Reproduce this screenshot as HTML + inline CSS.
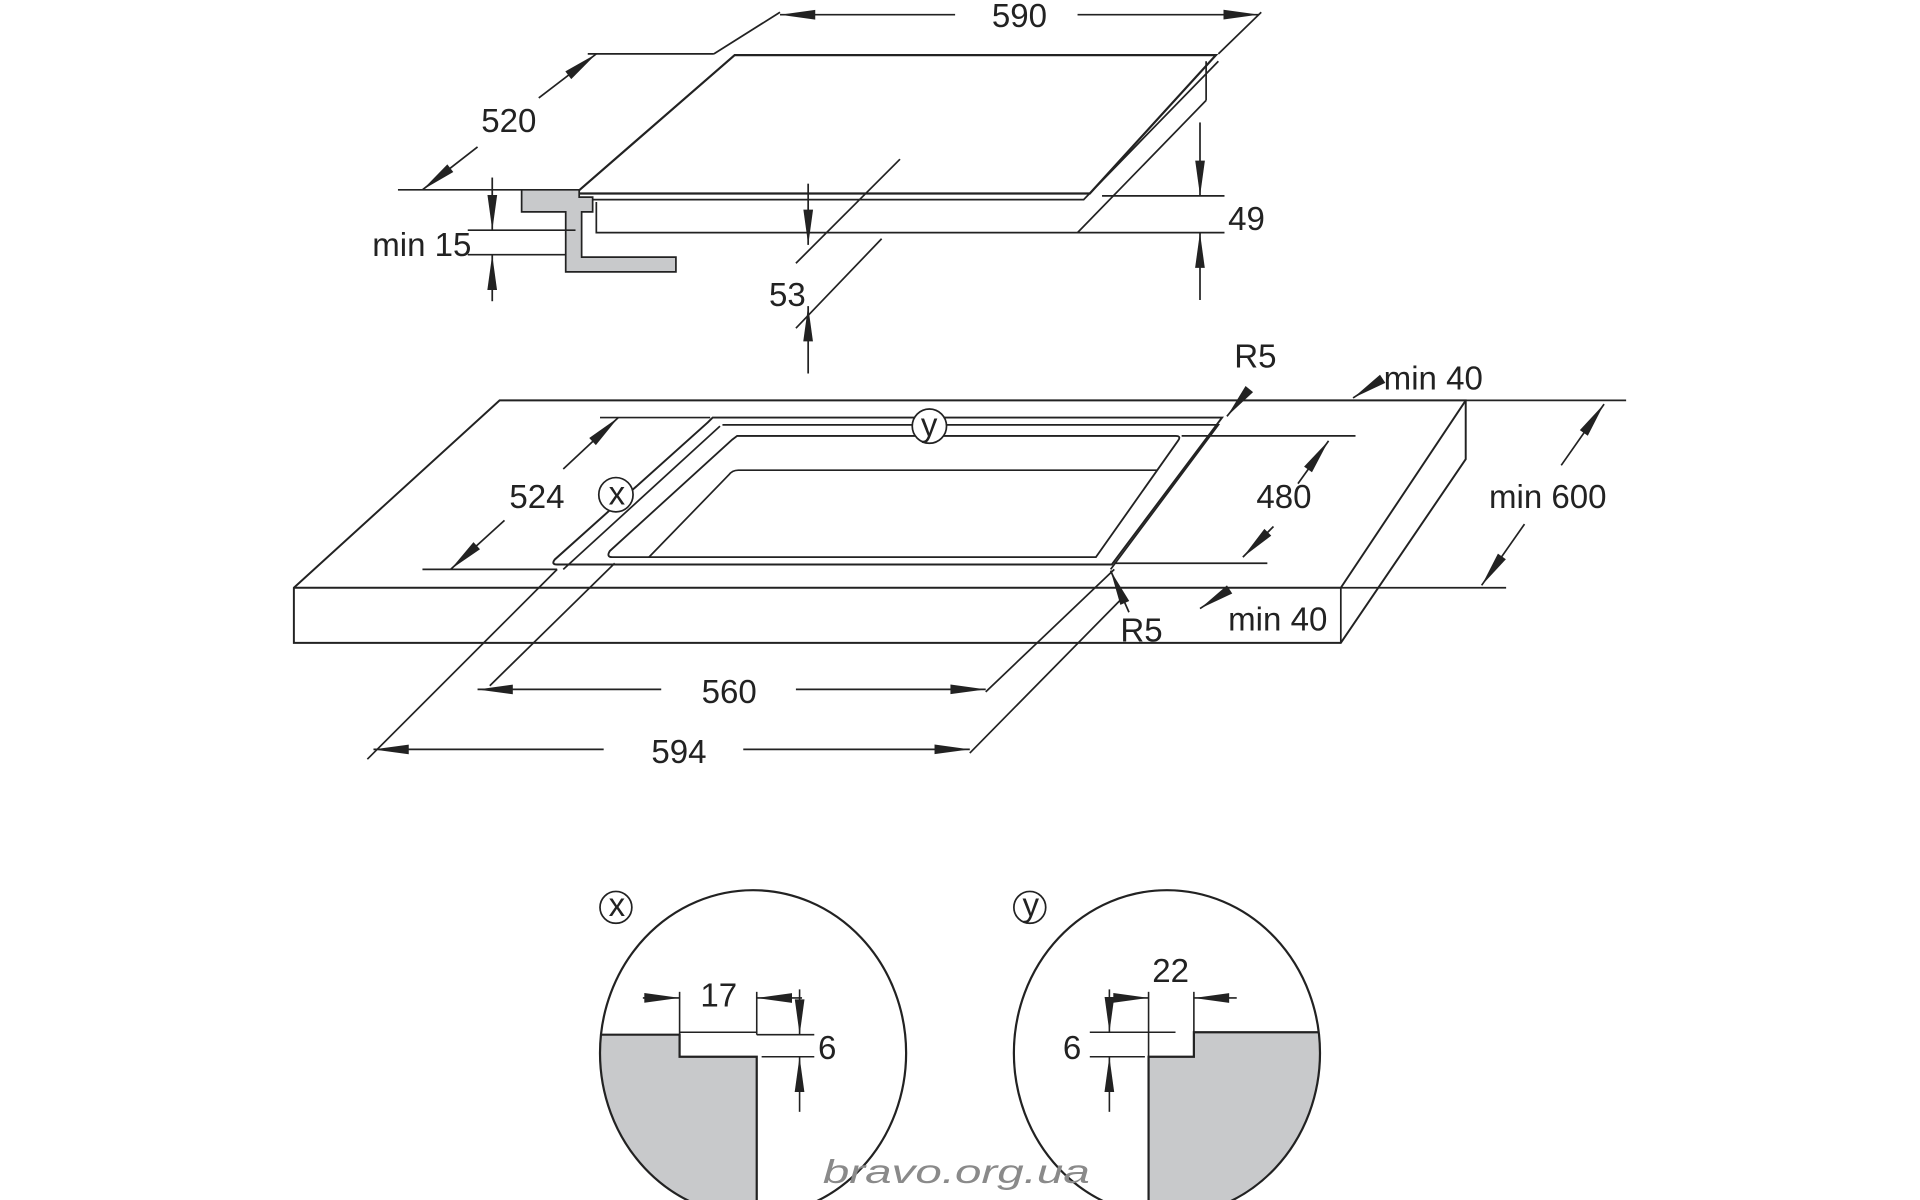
<!DOCTYPE html>
<html><head><meta charset="utf-8"><style>
html,body{margin:0;padding:0;background:#fff;}
svg{display:block}
text{font-family:"Liberation Sans",sans-serif;font-size:27px;fill:#222;}
</style></head><body>
<svg width="1920" height="1200" viewBox="0 0 1568 980" xmlns="http://www.w3.org/2000/svg">
<defs>
<marker id="a" viewBox="0 0 10 10" refX="10" refY="5" markerWidth="12" markerHeight="9" markerUnits="userSpaceOnUse" orient="auto-start-reverse" overflow="visible">
<path d="M-22,-3 L10,5 L-22,13 Z" transform="scale(1,0.55) translate(0,4)" fill="#222"/>
</marker>
</defs>
<g stroke="#222" stroke-width="1.4" fill="none">
<path d="M600,45 L993,45 L890,158 L470,158 Z" stroke-width="1.8"/>
<path d="M470,158 L470,163 L885,163 L995,50"/>
<path d="M487,165 L487,190 L880,190 L985,82"/>
<path d="M985,50 L985,82"/>
<line x1="325" y1="155" x2="470" y2="155"/>
<path d="M426,155 L473,155 L473,161 L484,161 L484,173 L475,173 L475,210 L552,210 L552,222 L462,222 L462,173 L426,173 Z" fill="#c8c9cb"/>
<line x1="583" y1="44" x2="637" y2="10"/>
<line x1="995" y1="44" x2="1030" y2="10"/>
<line x1="637" y1="12" x2="780" y2="12" marker-start="url(#a)"/>
<line x1="880" y1="12" x2="1028" y2="12" marker-end="url(#a)"/>
<line x1="480" y1="44" x2="583" y2="44"/>
<line x1="345" y1="155" x2="390" y2="120" marker-start="url(#a)"/>
<line x1="440" y1="80" x2="487" y2="44" marker-end="url(#a)"/>
<line x1="402" y1="145" x2="402" y2="188" marker-end="url(#a)"/>
<line x1="402" y1="208" x2="402" y2="246" marker-start="url(#a)"/>
<line x1="382" y1="188" x2="470" y2="188"/>
<line x1="382" y1="208" x2="462" y2="208"/>
<line x1="660" y1="150" x2="660" y2="200" marker-end="url(#a)"/>
<line x1="660" y1="250" x2="660" y2="305" marker-start="url(#a)"/>
<line x1="650" y1="215" x2="735" y2="130"/>
<line x1="650" y1="268" x2="720" y2="195"/>
<line x1="900" y1="160" x2="1000" y2="160"/>
<line x1="880" y1="190" x2="1000" y2="190"/>
<line x1="980" y1="100" x2="980" y2="160" marker-end="url(#a)"/>
<line x1="980" y1="190" x2="980" y2="245" marker-start="url(#a)"/>
<path d="M240,480 L408,327 L1197,327 L1197,375 L1095,525 L240,525 Z" stroke-width="1.6"/>
<line x1="240" y1="480" x2="1095" y2="480" stroke-width="1.6"/>
<line x1="1095" y1="480" x2="1197" y2="327" stroke-width="1.6"/>
<line x1="1095" y1="480" x2="1095" y2="525"/>
<path d="M582,341 L998,341 L908,461 L455,461 Q450,461 453,457 L578,345 Z" stroke-width="1.6"/>
<path d="M590,347 L995,347 L907,465"/>
<path d="M460,465 L588,348"/>
<path d="M602,356 L960,356 Q965,356 962,360 L895,455 L500,455 Q495,455 498,450 L598,359 Z" stroke-width="1.5"/>
<path d="M530,455 L595,388 Q598,384 603,384 L945,384"/>
<line x1="345" y1="465" x2="455" y2="465"/>
<line x1="490" y1="341" x2="580" y2="341"/>
<line x1="368" y1="465" x2="412" y2="425" marker-start="url(#a)"/>
<line x1="460" y1="383" x2="505" y2="341" marker-end="url(#a)"/>
<line x1="965" y1="356" x2="1107" y2="356"/>
<line x1="910" y1="460" x2="1035" y2="460"/>
<line x1="1015" y1="455" x2="1040" y2="430" marker-start="url(#a)"/>
<line x1="1060" y1="395" x2="1085" y2="360" marker-end="url(#a)"/>
<line x1="1197" y1="327" x2="1328" y2="327"/>
<line x1="1095" y1="480" x2="1230" y2="480"/>
<line x1="1210" y1="478" x2="1245" y2="428" marker-start="url(#a)"/>
<line x1="1275" y1="380" x2="1310" y2="330" marker-end="url(#a)"/>
<line x1="1105" y1="325" x2="1125" y2="312" marker-start="url(#a)"/>
<line x1="980" y1="497" x2="1000" y2="484" marker-start="url(#a)"/>
<line x1="1002" y1="340" x2="1020" y2="318" marker-start="url(#a)"/>
<line x1="907" y1="466" x2="922" y2="500" marker-start="url(#a)"/>
<line x1="400" y1="560" x2="502" y2="460"/>
<line x1="805" y1="565" x2="910" y2="465"/>
<line x1="300" y1="620" x2="455" y2="465"/>
<line x1="792" y1="615" x2="915" y2="490"/>
<line x1="390" y1="563" x2="540" y2="563" marker-start="url(#a)"/>
<line x1="650" y1="563" x2="805" y2="563" marker-end="url(#a)"/>
<line x1="305" y1="612" x2="493" y2="612" marker-start="url(#a)"/>
<line x1="607" y1="612" x2="792" y2="612" marker-end="url(#a)"/>
<circle cx="759" cy="348" r="14" fill="#fff"/>
<circle cx="503" cy="404" r="14" fill="#fff"/>
<circle cx="503" cy="741" r="13"/>
<circle cx="841" cy="741" r="13"/>
</g>
<g fill="#222" stroke="none">
<text x="810" y="22" font-size="26">590</text>
<text x="393" y="108">520</text>
<text x="304" y="209">min 15</text>
<text x="628" y="250">53</text>
<text x="1003" y="188">49</text>
<text x="1008" y="300">R5</text>
<text x="1130" y="318">min 40</text>
<text x="416" y="415">524</text>
<text x="1026" y="415">480</text>
<text x="1216" y="415">min 600</text>
<text x="915" y="524">R5</text>
<text x="1003" y="515">min 40</text>
<text x="573" y="574">560</text>
<text x="532" y="623">594</text>
<text x="752" y="356" font-size="20">y</text>
<text x="497" y="412" font-size="20">x</text>
<text x="497" y="748" font-size="20">x</text>
<text x="835" y="748" font-size="20">y</text>
</g>
<clipPath id="cx"><ellipse cx="615" cy="860" rx="125" ry="133"/></clipPath>
<clipPath id="cy"><ellipse cx="953" cy="860" rx="125" ry="133"/></clipPath>
<g clip-path="url(#cx)">
<path d="M480,845 L555,845 L555,863 L618,863 L618,990 L480,990 Z" fill="#c8c9cb" stroke="#222" stroke-width="1.8"/>
</g>
<g clip-path="url(#cy)">
<path d="M1090,843 L975,843 L975,863 L938,863 L938,990 L1090,990 Z" fill="#c8c9cb" stroke="#222" stroke-width="1.8"/>
</g>
<ellipse cx="615" cy="860" rx="125" ry="133" fill="none" stroke="#222" stroke-width="1.8"/>
<ellipse cx="953" cy="860" rx="125" ry="133" fill="none" stroke="#222" stroke-width="1.8"/>
<g stroke="#222" stroke-width="1.3" fill="none">
<line x1="555" y1="843" x2="618" y2="843"/>
<line x1="555" y1="810" x2="555" y2="845"/>
<line x1="618" y1="810" x2="618" y2="845"/>
<line x1="525" y1="815" x2="555" y2="815" marker-end="url(#a)"/>
<line x1="618" y1="815" x2="655" y2="815" marker-start="url(#a)"/>
<line x1="618" y1="845" x2="665" y2="845"/>
<line x1="622" y1="863" x2="665" y2="863"/>
<line x1="653" y1="808" x2="653" y2="845" marker-end="url(#a)"/>
<line x1="653" y1="863" x2="653" y2="908" marker-start="url(#a)"/>
<line x1="938" y1="810" x2="938" y2="863"/>
<line x1="975" y1="810" x2="975" y2="843"/>
<line x1="905" y1="815" x2="938" y2="815" marker-end="url(#a)"/>
<line x1="975" y1="815" x2="1010" y2="815" marker-start="url(#a)"/>
<line x1="890" y1="843" x2="960" y2="843"/>
<line x1="890" y1="863" x2="935" y2="863"/>
<line x1="906" y1="808" x2="906" y2="843" marker-end="url(#a)"/>
<line x1="906" y1="863" x2="906" y2="908" marker-start="url(#a)"/>
</g>
<g fill="#222">
<text x="572" y="822">17</text>
<text x="668" y="865">6</text>
<text x="941" y="802">22</text>
<text x="868" y="865">6</text>
<text x="672" y="966" font-size="40" font-style="italic" textLength="218" lengthAdjust="spacingAndGlyphs" style="fill:#8a8a8a">bravo.org.ua</text>
</g>
</svg>
</body></html>
